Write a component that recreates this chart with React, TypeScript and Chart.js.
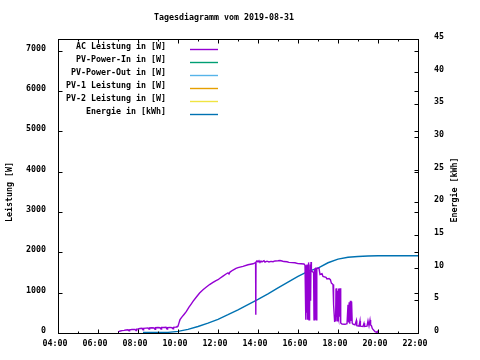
import React, { useEffect, useRef } from "react";
import { Chart, registerables } from "chart.js";

Chart.register(...registerables);

const chartTitle = "Tagesdiagramm vom 2019-08-31";
const leftAxisTitle = "Leistung [W]";
const rightAxisTitle = "Energie [kWh]";

const seriesLabels = [
  "AC Leistung in [W]",
  "PV-Power-In in [W]",
  "PV-Power-Out in [W]",
  "PV-1 Leistung in [W]",
  "PV-2 Leistung in [W]",
  "Energie in [kWh]",
];
const seriesColors = ["#9400d3", "#009e73", "#56b4e9", "#e69f00", "#f0e442", "#0072b2"];

const xMinHour = 4;
const xMaxHour = 22;
const xMajorHours = [4, 6, 8, 10, 12, 14, 16, 18, 20, 22];
const xMinorHours = [5, 7, 9, 11, 13, 15, 17, 19, 21];
const leftTicks = [0, 1000, 2000, 3000, 4000, 5000, 6000, 7000];
const rightTicks = [0, 5, 10, 15, 20, 25, 30, 35, 40, 45];
const leftMax = 7285;
const rightMax = 45;

// AC power: time (decimal hours) and watts
const acTime = [
  7.0, 7.05, 7.12, 7.2, 7.3, 7.4, 7.5, 7.55, 7.58, 7.7, 7.85, 7.9, 7.93, 8.0, 8.1, 8.2, 8.25, 8.28, 8.4, 8.5,
  8.55, 8.58, 8.7, 8.8, 8.85, 8.88, 9.0, 9.1, 9.15, 9.18, 9.3, 9.4, 9.45, 9.48, 9.6, 9.7, 9.75, 9.78, 9.9, 9.95,
  10.0, 10.05, 10.1, 10.2, 10.3, 10.42, 10.55, 10.65, 10.75, 10.9, 11.0, 11.08, 11.25, 11.42, 11.58, 11.75, 11.9, 12.0, 12.08, 12.25,
  12.42, 12.5, 12.55, 12.6, 12.75, 12.9, 13.0, 13.25, 13.5, 13.75, 13.85, 13.88, 13.89, 13.9, 13.95, 14.0, 14.05, 14.1, 14.15, 14.2,
  14.3, 14.35, 14.45, 14.55, 14.65, 14.75, 14.85, 15.0, 15.1, 15.2, 15.3, 15.45, 15.55, 15.7, 15.85, 16.0, 16.15, 16.3, 16.35,
  16.39, 16.41, 16.43, 16.45, 16.47, 16.49, 16.51, 16.53, 16.55, 16.57, 16.59, 16.61, 16.63, 16.65, 16.67, 16.72, 16.78,
  16.8, 16.82, 16.84, 16.86, 16.88, 16.9, 16.92, 16.94, 16.97, 17.05, 17.1, 17.2, 17.25, 17.4, 17.45, 17.55, 17.62, 17.67, 17.75,
  17.78, 17.83, 17.88, 17.9, 17.92, 17.94, 17.96, 17.98, 18.0, 18.02, 18.04, 18.06, 18.08, 18.1, 18.12, 18.15, 18.2, 18.35, 18.45,
  18.5, 18.53, 18.56, 18.59, 18.62, 18.65, 18.68, 18.71, 18.75, 18.85, 18.92, 18.94, 19.05, 19.1, 19.12, 19.25, 19.3, 19.33, 19.45,
  19.5, 19.55, 19.6, 19.63, 19.67, 19.72, 19.8, 19.85, 19.92, 19.97, 20.0,
];
const acWatt = [
  35, 40, 50, 60, 65, 75, 80, 55, 80, 85, 90, 60, 95, 100, 110, 115, 80, 115, 120, 125,
  95, 125, 130, 125, 90, 130, 135, 130, 95, 135, 135, 140, 100, 135, 140, 130, 105, 140, 145, 160,
  170, 250, 330, 400, 460, 535, 640, 710, 782, 880, 940, 990, 1070, 1138, 1200, 1253, 1300, 1320, 1350, 1410,
  1468, 1490, 1460, 1510, 1560, 1600, 1620, 1650, 1690, 1715, 1740, 1720, 453, 1760, 1790, 1760, 1790, 1750, 1785, 1760,
  1790, 1755, 1780, 1760, 1775, 1765, 1785, 1790, 1797, 1785, 1770, 1765, 1750, 1745, 1740, 1720, 1715, 1710, 1680,
  330, 1650, 500, 1700, 330, 1600, 600, 1750, 330, 1500, 580, 1700, 800, 1760, 1550, 1520, 1500,
  330, 1600, 330, 1550, 330, 1620, 330, 1600, 1610, 1600, 1450, 1470, 1400, 1380, 1340, 1350, 1320, 1237, 1200,
  700, 290, 300, 1100, 400, 1110, 300, 1050, 420, 1100, 350, 1080, 400, 1110, 300, 250, 220, 215, 230,
  700, 260, 760, 230, 800, 300, 780, 250, 220, 200, 310, 180, 170, 300, 170, 160, 240, 160, 170,
  300, 180, 320, 200, 180, 106, 60, 35, 20, 40, 10,
];

// Energy: time (decimal hours) and kWh
const energyTime = [8.25, 9.5, 10.0, 10.5, 11.0, 11.5, 12.0, 12.5, 13.0, 13.5, 14.0, 14.5, 15.0, 15.5, 16.0, 16.5, 17.0, 17.5, 18.0, 18.5, 19.0, 19.5, 20.0, 22.0];
const energyKWh = [0.1, 0.1, 0.25, 0.55, 1.0, 1.5, 2.1, 2.8, 3.55, 4.35, 5.15, 6.0, 6.9, 7.8, 8.66, 9.43, 9.94, 10.75, 11.3, 11.6, 11.7, 11.78, 11.82, 11.82];

const FONT_FAMILY = "'DejaVu Sans Mono', monospace";
const FONT = "bold 8.3px " + FONT_FAMILY;
const LINE_W = 1.4;

function fmtHour(v: number) {
  const h = Math.round(v);
  return (h < 10 ? "0" : "") + h + ":00";
}

const gnuplotPlugin = {
  id: "gnuplotDecor",
  afterDraw(chart: any) {
    const ctx = chart.ctx;
    const a = chart.chartArea;
    const xs = chart.scales.x;
    const yl = chart.scales.y;
    const yr = chart.scales.y2;
    const L = Math.round(a.left) + 0.5;
    const R = Math.round(a.right) + 0.5;
    const T = Math.round(a.top) + 0.5;
    const B = Math.round(a.bottom) + 0.5;
    ctx.save();
    ctx.strokeStyle = "#000";
    ctx.lineWidth = 1;
    ctx.strokeRect(L, T, R - L, B - T);
    ctx.beginPath();
    xs.ticks.forEach((t: any) => {
      const px = Math.round(xs.getPixelForValue(t.value)) + 0.5;
      ctx.moveTo(px, B); ctx.lineTo(px, B - 4);
      ctx.moveTo(px, T); ctx.lineTo(px, T + 4);
    });
    xMinorHours.forEach((h) => {
      const px = Math.round(xs.getPixelForValue(h)) + 0.5;
      ctx.moveTo(px, B); ctx.lineTo(px, B - 2);
      ctx.moveTo(px, T); ctx.lineTo(px, T + 2);
    });
    yl.ticks.forEach((t: any) => {
      const py = Math.round(yl.getPixelForValue(t.value)) + 0.5;
      ctx.moveTo(L, py); ctx.lineTo(L + 4, py);
      ctx.moveTo(R, py); ctx.lineTo(R - 4, py);
    });
    yr.ticks.forEach((t: any) => {
      const py = Math.round(yr.getPixelForValue(t.value)) + 0.5;
      ctx.moveTo(R, py); ctx.lineTo(R - 4, py);
    });
    ctx.stroke();

    ctx.fillStyle = "#000";
    ctx.font = FONT;
    ctx.textBaseline = "middle";
    ctx.textAlign = "center";
    ctx.fillText(chartTitle, 224, 18);
    ctx.save();
    ctx.translate(10, 192);
    ctx.rotate(-Math.PI / 2);
    ctx.fillText(leftAxisTitle, 0, 0);
    ctx.restore();
    ctx.save();
    ctx.translate(455, 190);
    ctx.rotate(-Math.PI / 2);
    ctx.fillText(rightAxisTitle, 0, 0);
    ctx.restore();
    chart.data.datasets.forEach((ds: any, i: number) => {
      const y = 47 + i * 13;
      ctx.textAlign = "right";
      ctx.fillStyle = "#000";
      ctx.fillText(ds.label, 166, y);
      ctx.strokeStyle = ds.borderColor;
      ctx.lineWidth = LINE_W;
      ctx.beginPath();
      ctx.moveTo(190, Math.round(y + 2) + 0.5);
      ctx.lineTo(218, Math.round(y + 2) + 0.5);
      ctx.stroke();
    });
    ctx.restore();
  },
};

const tickFont = { family: FONT_FAMILY, size: 8.3, weight: "bold" as const };

export default function App() {
  const ref = useRef<HTMLCanvasElement | null>(null);
  useEffect(() => {
    document.body.style.margin = "0";
    const canvas = ref.current!;
    const mk = (i: number, data: any[], axis: string) => ({
      label: seriesLabels[i],
      data,
      yAxisID: axis,
      borderColor: seriesColors[i],
      backgroundColor: seriesColors[i],
      borderWidth: LINE_W,
      pointRadius: 0,
      tension: 0,
      fill: false,
    });
    const chart = new Chart(canvas, {
      type: "line",
      data: {
        datasets: [
          mk(0, acTime.map((t, i) => ({ x: t, y: acWatt[i] })), "y"),
          mk(1, [], "y"),
          mk(2, [], "y"),
          mk(3, [], "y"),
          mk(4, [], "y"),
          mk(5, energyTime.map((t, i) => ({ x: t, y: energyKWh[i] })), "y2"),
        ],
      },
      options: {
        responsive: false,
        animation: false,
        parsing: false as any,
        layout: { padding: { top: 39, left: 0, right: 0, bottom: 0 } },
        plugins: { legend: { display: false }, title: { display: false }, tooltip: { enabled: false } },
        scales: {
          x: {
            type: "linear",
            min: xMinHour,
            max: xMaxHour,
            grid: { display: false, drawTicks: false },
            border: { display: false },
            ticks: {
              autoSkip: false,
              maxRotation: 0,
              color: "#000",
              font: tickFont,
              padding: 6,
              labelOffset: -3,
              callback: (v: any) => fmtHour(Number(v)),
            },
            afterBuildTicks: (s: any) => { s.ticks = xMajorHours.map((v) => ({ value: v })); },
            afterFit: (s: any) => { s.height = 27; },
          },
          y: {
            type: "linear",
            position: "left",
            min: 0,
            max: leftMax,
            grid: { display: false, drawTicks: false },
            border: { display: false },
            ticks: {
              autoSkip: false,
              color: "#000",
              font: tickFont,
              padding: 12,
              labelOffset: -2,
              callback: (v: any) => String(v),
            },
            afterBuildTicks: (s: any) => { s.ticks = leftTicks.map((v) => ({ value: v })); },
            afterFit: (s: any) => { s.width = 58; },
          },
          y2: {
            type: "linear",
            position: "right",
            min: 0,
            max: rightMax,
            grid: { display: false, drawTicks: false },
            border: { display: false },
            ticks: {
              autoSkip: false,
              color: "#000",
              font: tickFont,
              padding: 16,
              labelOffset: -2,
              callback: (v: any) => String(v),
            },
            afterBuildTicks: (s: any) => { s.ticks = rightTicks.map((v) => ({ value: v })); },
            afterFit: (s: any) => { s.width = 62; },
          },
        },
      },
      plugins: [gnuplotPlugin],
    });
    return () => chart.destroy();
  }, []);
  return (
    <div style={{ position: "fixed", left: 0, top: 0, width: 480, height: 360, background: "#fff" }}>
      <canvas ref={ref} width={480} height={360} style={{ width: 480, height: 360, display: "block" }} />
    </div>
  );
}
